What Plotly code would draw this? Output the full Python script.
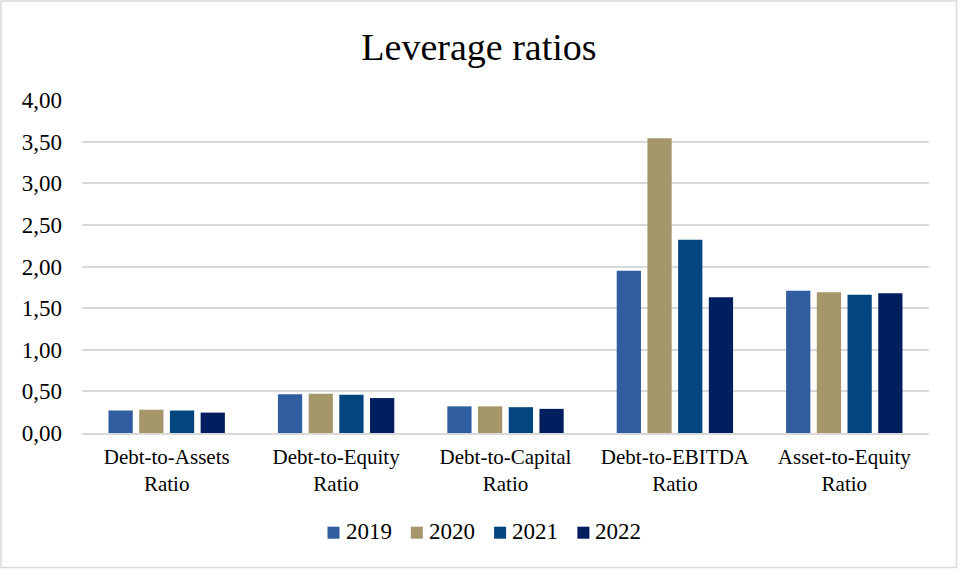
import plotly.graph_objects as go

categories = ["Debt-to-Assets<br>Ratio", "Debt-to-Equity<br>Ratio", "Debt-to-Capital<br>Ratio",
              "Debt-to-EBITDA<br>Ratio", "Asset-to-Equity<br>Ratio"]
years = ["2019", "2020", "2021", "2022"]
values_2019 = [0.27, 0.465, 0.32, 1.95, 1.71]
values_2020 = [0.28, 0.47, 0.32, 3.54, 1.69]
values_2021 = [0.27, 0.46, 0.31, 2.32, 1.66]
values_2022 = [0.245, 0.42, 0.29, 1.63, 1.68]
colors = ["#2F5D9F", "#A5976B", "#03457F", "#011F5E"]
y_ticks = [0, 0.5, 1, 1.5, 2, 2.5, 3, 3.5, 4]

series = [values_2019, values_2020, values_2021, values_2022]
font_family = "Liberation Serif"

fig = go.Figure()
for year, vals, col in zip(years, series, colors):
    fig.add_trace(go.Bar(name=year, x=categories, y=vals, marker_color=col,
                         marker_line_width=0, showlegend=False))

W, H = 958, 569
ml, mr, mt, mb = 82, 29, 100, 136
pw, ph = W - ml - mr, H - mt - mb


def px_x(px):
    return (px - ml) / pw


def px_y(py):
    return (H - mb - py) / ph


fig.update_layout(
    width=W, height=H,
    margin=dict(l=ml, r=mr, t=mt, b=mb),
    paper_bgcolor="white", plot_bgcolor="white",
    separators=",.",
    font=dict(family=font_family, color="#000000"),
    title=dict(text="Leverage ratios", x=0.5, xanchor="center", y=1 - 47 / H, yanchor="middle",
               font=dict(size=38, family=font_family, color="#000000")),
    barmode="group", bargap=0.275, bargroupgap=0.21,
    showlegend=False,
)
fig.update_yaxes(range=[0, 4], tickvals=y_ticks, tickformat=".2f",
                 showgrid=True, gridcolor="#D9D9D9", gridwidth=1.5,
                 zeroline=False, showline=False, ticks="", ticklabelstandoff=19,
                 tickfont=dict(size=23, family=font_family, color="#000000"))
fig.update_xaxes(showline=True, linecolor="#D9D9D9", linewidth=1.5, ticks="",
                 tickfont=dict(size=21, family=font_family, color="#000000"), ticklabelstandoff=4)

# light frame around the whole chart
fig.add_shape(type="rect", xref="paper", yref="paper",
              x0=px_x(1), x1=px_x(W - 1.5), y0=px_y(H - 1.5), y1=px_y(1),
              line=dict(color="#D9D9D9", width=1.5), fillcolor="rgba(0,0,0,0)", layer="below")

# legend row: colour square followed by the year
legend_x0, legend_pitch, legend_y, swatch = 327.5, 83.3, 532.7, 12
for i, (year, col) in enumerate(zip(years, colors)):
    sx = legend_x0 + i * legend_pitch
    fig.add_shape(type="rect", xref="paper", yref="paper",
                  x0=px_x(sx), x1=px_x(sx + swatch),
                  y0=px_y(legend_y + swatch / 2), y1=px_y(legend_y - swatch / 2),
                  line=dict(width=0), fillcolor=col)
    fig.add_annotation(text=year, xref="paper", yref="paper",
                       x=px_x(sx + swatch + 4), y=px_y(legend_y - 1),
                       xanchor="left", yanchor="middle", showarrow=False,
                       font=dict(size=23, family=font_family, color="#000000"))

fig.write_html("out.html")
